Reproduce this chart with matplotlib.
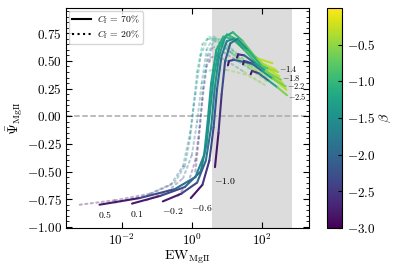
import numpy as np
import matplotlib
matplotlib.use('Agg')
import matplotlib.pyplot as plt
from matplotlib.collections import LineCollection
from matplotlib.lines import Line2D
import matplotlib.ticker as mticker

plt.rcParams['font.family'] = 'serif'
plt.rcParams['font.serif'] = ['cmr10']
plt.rcParams['mathtext.fontset'] = 'cm'
plt.rcParams['axes.formatter.use_mathtext'] = True
plt.rcParams['axes.unicode_minus'] = True

# C_f = 70% curves: label -> (EW, Psi, beta along curve)
solid_labels = ['0.5', '0.1', '-0.2', '-0.6', '-1.0', '-1.4', '-1.8', '-2.2', '-2.5']
solid_ew = [
    [0.0023, 0.032, 0.32, 1.26, 2.24, 2.82, 3.55, 5.0, 7.9, 14, 32, 79, 200],
    [0.0195, 0.126, 0.63, 1.78, 2.63, 3.31, 4.17, 6.03, 10, 17.8, 39.8, 100, 251],
    [0.148, 0.5, 1.41, 2.51, 3.55, 4.47, 6.03, 8.91, 14.8, 28.2, 70.8, 158, 316],
    [0.93, 2.0, 3.16, 4.17, 5.25, 7.08, 10, 15.8, 31.6, 79.4, 200, 398],
    [4.57, 5.75, 7.08, 8.91, 12.6, 20, 39.8, 100, 251, 501],
    [10.7, 11.5, 15.8, 31.6, 79.4, 158, 290],
    [19.5, 21.0, 31.6, 63.1, 126, 350],
    [28.8, 31.0, 50.1, 100, 200, 480],
    [47.9, 52.0, 79.4, 158, 282, 520],
]
solid_psi = [
    [-0.80, -0.74, -0.66, -0.55, -0.35, -0.05, 0.30, 0.60, 0.72, 0.70, 0.60, 0.52, 0.48],
    [-0.79, -0.72, -0.64, -0.50, -0.25, 0.05, 0.35, 0.62, 0.74, 0.70, 0.58, 0.48, 0.42],
    [-0.77, -0.70, -0.60, -0.40, -0.10, 0.25, 0.55, 0.72, 0.76, 0.68, 0.52, 0.42, 0.36],
    [-0.74, -0.62, -0.40, -0.10, 0.25, 0.55, 0.68, 0.70, 0.60, 0.46, 0.36, 0.30],
    [-0.46, -0.15, 0.20, 0.50, 0.66, 0.70, 0.60, 0.45, 0.32, 0.24],
    [0.46, 0.50, 0.51, 0.49, 0.46, 0.43, 0.40],
    [0.53, 0.56, 0.55, 0.48, 0.41, 0.33],
    [0.47, 0.50, 0.48, 0.41, 0.34, 0.27],
    [0.38, 0.41, 0.39, 0.32, 0.26, 0.19],
]
solid_beta = [
    [-3.0, -2.6, -2.1, -1.7, -1.5, -1.4, -1.3, -1.2, -1.05, -0.9, -0.7, -0.45, -0.2],
    [-3.0, -2.6, -2.1, -1.75, -1.55, -1.45, -1.35, -1.2, -1.05, -0.9, -0.65, -0.4, -0.2],
    [-3.0, -2.6, -2.2, -1.9, -1.7, -1.55, -1.4, -1.25, -1.1, -0.9, -0.6, -0.4, -0.2],
    [-3.0, -2.7, -2.45, -2.3, -2.1, -1.9, -1.7, -1.45, -1.15, -0.75, -0.4, -0.2],
    [-3.0, -2.7, -2.45, -2.2, -1.95, -1.7, -1.35, -0.9, -0.45, -0.2],
    [-3.0, -2.7, -2.3, -1.8, -1.1, -0.6, -0.25],
    [-3.0, -2.7, -2.3, -1.7, -1.0, -0.25],
    [-3.0, -2.7, -2.3, -1.7, -1.0, -0.25],
    [-3.0, -2.7, -2.3, -1.6, -0.9, -0.25],
]

# C_f = 20% curves
dotted_ew = [
    [0.00063, 0.0063, 0.063, 0.32, 0.63, 0.89, 1.12, 1.41, 2.0, 3.16, 6.31, 20, 79.4, 200],
    [0.0063, 0.05, 0.25, 0.56, 0.89, 1.26, 1.78, 2.82, 5.01, 12.6, 39.8, 158],
    [0.05, 0.2, 0.56, 1.0, 1.41, 1.91, 2.63, 4.17, 7.94, 20, 63.1, 200],
    [0.4, 0.79, 1.26, 1.66, 2.09, 2.82, 4.17, 7.94, 20, 63.1, 200],
    [1.26, 1.58, 2.0, 2.63, 3.8, 7.08, 15.8, 50.1, 158],
    [3.16, 3.45, 5.01, 10, 31.6, 126],
    [5.01, 5.45, 7.94, 15.8, 50.1, 158],
    [2.24, 3.98, 10, 31.6, 100],
]
dotted_psi = [
    [-0.80, -0.76, -0.70, -0.60, -0.45, -0.20, 0.10, 0.40, 0.65, 0.72, 0.66, 0.52, 0.38, 0.30],
    [-0.78, -0.72, -0.62, -0.45, -0.15, 0.20, 0.55, 0.70, 0.70, 0.58, 0.45, 0.33],
    [-0.76, -0.68, -0.56, -0.35, -0.05, 0.30, 0.60, 0.72, 0.68, 0.56, 0.42, 0.30],
    [-0.72, -0.60, -0.40, -0.10, 0.25, 0.55, 0.68, 0.66, 0.56, 0.44, 0.34],
    [-0.50, -0.20, 0.15, 0.45, 0.62, 0.64, 0.56, 0.45, 0.34],
    [0.49, 0.53, 0.55, 0.50, 0.40, 0.28],
    [0.54, 0.57, 0.58, 0.52, 0.42, 0.30],
    [0.40, 0.42, 0.42, 0.38, 0.30],
]
dotted_beta = [
    [-3.0, -2.7, -2.3, -1.9, -1.7, -1.55, -1.45, -1.35, -1.25, -1.1, -0.9, -0.6, -0.35, -0.2],
    [-3.0, -2.6, -2.2, -1.9, -1.7, -1.55, -1.4, -1.25, -1.1, -0.8, -0.5, -0.25],
    [-3.0, -2.6, -2.2, -1.95, -1.75, -1.6, -1.45, -1.3, -1.1, -0.8, -0.5, -0.25],
    [-3.0, -2.7, -2.45, -2.25, -2.05, -1.85, -1.65, -1.4, -1.05, -0.7, -0.35],
    [-3.0, -2.7, -2.45, -2.2, -1.95, -1.7, -1.35, -0.9, -0.5],
    [-3.0, -2.7, -2.3, -1.6, -1.0, -0.4],
    [-3.0, -2.7, -2.3, -1.6, -1.0, -0.4],
    [-1.2, -0.9, -0.7, -0.5, -0.3],
]

# curve label positions (EW, Psi)
label_ew = [0.0032, 0.027, 0.29, 1.95, 8.7, 309, 372, 516, 550]
label_psi = [-0.89, -0.885, -0.86, -0.83, -0.59, 0.43, 0.35, 0.27, 0.175]

band_lo, band_hi = 3.7, 720

norm = plt.Normalize(-3, 0)
cmap = plt.get_cmap('viridis')

fig = plt.figure(figsize=(3.99, 2.72), dpi=100)
ax = fig.add_axes([0.165, 0.162, 0.609, 0.809])
cax = fig.add_axes([0.820, 0.162, 0.037, 0.809])

ax.axvspan(band_lo, band_hi, color='#dcdcdc', zorder=0, lw=0)
ax.axhline(0, color='#aaaaaa', ls='--', lw=1.1, zorder=1)


def add_curve(ew, psi, beta, ls, alpha, lw):
    segs = [[(ew[i], psi[i]), (ew[i + 1], psi[i + 1])] for i in range(len(ew) - 1)]
    cvals = [(beta[i] + beta[i + 1]) / 2 for i in range(len(beta) - 1)]
    lc = LineCollection(segs, cmap=cmap, norm=norm, linestyles=ls, alpha=alpha,
                        linewidths=lw, capstyle='round', joinstyle='round', zorder=2)
    lc.set_array(np.array(cvals))
    ax.add_collection(lc)


for ew, psi, beta in zip(dotted_ew, dotted_psi, dotted_beta):
    add_curve(ew, psi, beta, ':', 0.35, 1.5)
for ew, psi, beta in zip(solid_ew, solid_psi, solid_beta):
    add_curve(ew, psi, beta, '-', 1.0, 1.5)

for lab, x, y in zip(solid_labels, label_ew, label_psi):
    ha = 'left' if x > 100 else 'center'
    fs = 6 if x > 100 else 7
    ax.text(x, y, '$' + lab + '$', fontsize=fs, ha=ha, va='center', zorder=3)

ax.set_xscale('log')
ax.set_xlim(10 ** -3.6, 10 ** 3.34)
ax.set_ylim(-1.01, 0.98)
ax.xaxis.set_major_locator(mticker.FixedLocator([1e-2, 1e0, 1e2]))
ax.xaxis.set_minor_locator(mticker.NullLocator())
ax.yaxis.set_major_locator(mticker.MultipleLocator(0.25))
ax.yaxis.set_minor_locator(mticker.MultipleLocator(0.05))
ax.tick_params(which='both', direction='in', top=True, right=True, labelsize=9.5)
ax.tick_params(which='major', length=4, pad=3)
ax.tick_params(which='minor', length=2)
ax.set_xlabel(r'$\mathrm{EW}_{\mathrm{MgII}}$', fontsize=10, labelpad=1)
ax.set_ylabel(r'$\bar{\Psi}_{\mathrm{MgII}}$', fontsize=10, labelpad=1)

handles = [Line2D([0], [0], color='black', lw=1.5, ls='-'),
           Line2D([0], [0], color='black', lw=1.5, ls=':')]
ax.legend(handles, [r'$C_{\rm f}\,=\,70\%$', r'$C_{\rm f}\,=\,20\%$'], loc='upper left',
          fontsize=7, handlelength=2.0, borderpad=0.3, labelspacing=0.2,
          handletextpad=0.6, borderaxespad=0.3, edgecolor='#cccccc', fancybox=True)

sm = plt.cm.ScalarMappable(cmap=cmap, norm=norm)
cb = fig.colorbar(sm, cax=cax)
cb.set_ticks([-3.0, -2.5, -2.0, -1.5, -1.0, -0.5])
cb.ax.yaxis.set_major_formatter(mticker.FormatStrFormatter(r'$%.1f$'))
cb.ax.tick_params(direction='in', labelsize=9.5, length=3)
cb.set_label(r'$\beta$', fontsize=10, labelpad=2)

fig.savefig('out.png', dpi=100)
